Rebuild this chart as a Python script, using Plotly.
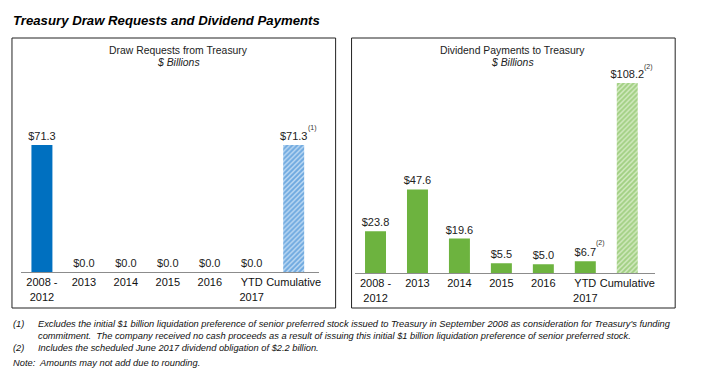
import plotly.graph_objects as go

# The page body has an 8px default margin; the figure is sized to fit inside it.
OFF = 8
W, H = 721 - OFF, 382 - OFF

categories = ["2008 -<br>2012", "2013", "2014", "2015", "2016", "YTD<br>2017", "Cumulative"]
draw_values = [71.3, 0.0, 0.0, 0.0, 0.0, 0.0, 71.3]
dividend_values = [23.8, 47.6, 19.6, 5.5, 5.0, 6.7, 108.2]

title_text = "Treasury Draw Requests and Dividend Payments"
left_title = "Draw Requests from Treasury"
right_title = "Dividend Payments to Treasury"
unit_text = "$ Billions"
footnotes = [
    ("(1)", "Excludes the initial $1 billion liquidation preference of senior preferred stock issued to Treasury in September 2008 as consideration for Treasury's funding"),
    ("", "commitment.  The company received no cash proceeds as a result of issuing this initial $1 billion liquidation preference of senior preferred stock."),
    ("(2)", "Includes the scheduled June 2017 dividend obligation of $2.2 billion."),
]
note_text = "Note:  Amounts may not add due to rounding."

FONT = "Liberation Sans, Arial, sans-serif"
BLUE = "#0070C0"
GREEN = "#6DB33F"


def px(x):
    return (x - OFF) / W


def py(y):
    return 1 - (y - OFF) / H


fig = go.Figure()


def add_panel(values, color, light, stripe, xa, ya):
    periods = categories[:-1]
    fig.add_trace(go.Bar(
        x=periods, y=values[:-1], xaxis=xa, yaxis=ya, width=0.5,
        marker=dict(color=color, line=dict(width=0)),
        texttemplate="$%{y:.1f}", textposition="outside", constraintext="none",
        textfont=dict(family=FONT, size=11, color="#222222"),
        cliponaxis=False, showlegend=False, hoverinfo="skip",
    ))
    fig.add_trace(go.Bar(
        x=categories[-1:], y=values[-1:], xaxis=xa, yaxis=ya, width=0.5,
        marker=dict(
            color=light, line=dict(width=0),
            pattern=dict(shape="/", fgcolor=stripe, size=3.5, solidity=0.55, fillmode="overlay"),
        ),
        texttemplate="$%{y:.1f}", textposition="outside", constraintext="none",
        textfont=dict(family=FONT, size=11, color="#222222"),
        cliponaxis=False, showlegend=False, hoverinfo="skip",
    ))


add_panel(draw_values, BLUE, "#BCD8F2", "#1E78CC", "x", "y")
add_panel(dividend_values, GREEN, "#D3EAC2", "#6DB33F", "x2", "y2")

axis_common = dict(
    type="category", categoryorder="array", categoryarray=categories,
    showgrid=False, zeroline=False, showline=True,
    linecolor="#8C8C8C", linewidth=1, ticks="",
    tickfont=dict(family=FONT, size=11, color="#111111"),
    fixedrange=True,
)

fig.update_layout(
    width=W, height=H,
    margin=dict(l=0, r=0, t=0, b=0),
    paper_bgcolor="white", plot_bgcolor="white",
    font=dict(family=FONT, color="#111111"),
    barmode="overlay",
    xaxis=dict(domain=[px(21), px(320)], anchor="y", **axis_common),
    yaxis=dict(domain=[py(272), py(80)], range=[0, 192 / 1.78], visible=False, fixedrange=True),
    xaxis2=dict(domain=[px(356), px(658)], anchor="y2", **axis_common),
    yaxis2=dict(domain=[py(273), py(80)], range=[0, 193 / 1.755], visible=False, fixedrange=True),
)

# panel frames
for x0, x1 in [(12, 337), (353, 678)]:
    fig.add_shape(type="rect", xref="paper", yref="paper",
                  x0=px(x0), x1=px(x1), y0=py(308), y1=py(38),
                  line=dict(color="#222222", width=1), fillcolor="rgba(0,0,0,0)")

annotations = []
# main title
annotations.append(dict(text="<b><i>" + title_text + "</i></b>", xref="paper", yref="paper",
                        x=px(11), y=py(20), xanchor="left", yanchor="middle", showarrow=False,
                        font=dict(family=FONT, size=13.2, color="#000000")))
# panel titles
for cx, t in [(179, left_title), (515, right_title)]:
    annotations.append(dict(text=t, xref="paper", yref="paper", x=px(cx), y=py(50),
                            xanchor="center", yanchor="middle", showarrow=False,
                            font=dict(family=FONT, size=10.4, color="#222222")))
    annotations.append(dict(text="<i>" + unit_text + "</i>", xref="paper", yref="paper",
                            x=px(cx), y=py(62), xanchor="center", yanchor="middle", showarrow=False,
                            font=dict(family=FONT, size=10.4, color="#222222")))

# superscript footnote markers
sup_font = dict(family=FONT, size=7, color="#333333")
annotations.append(dict(text="(1)", xref="x", yref="y", x=categories[-1], y=draw_values[-1],
                        xanchor="left", yanchor="middle", xshift=12, yshift=17, showarrow=False,
                        font=sup_font))
annotations.append(dict(text="(2)", xref="x2", yref="y2", x=categories[-1], y=dividend_values[-1],
                        xanchor="left", yanchor="middle", xshift=15, yshift=16, showarrow=False,
                        font=sup_font))
annotations.append(dict(text="(2)", xref="x2", yref="y2", x=categories[5], y=dividend_values[5],
                        xanchor="left", yanchor="middle", xshift=9, yshift=18, showarrow=False,
                        font=sup_font))

# footnotes
foot_font = dict(family=FONT, size=9.3, color="#111111")
for (mark, txt), y in zip(footnotes, [324, 336, 348]):
    if mark:
        annotations.append(dict(text="<i>" + mark + "</i>", xref="paper", yref="paper",
                                x=px(11), y=py(y), xanchor="left", yanchor="middle", showarrow=False,
                                font=foot_font))
    annotations.append(dict(text="<i>" + txt + "</i>", xref="paper", yref="paper",
                            x=px(36), y=py(y), xanchor="left", yanchor="middle", showarrow=False,
                            font=foot_font))
annotations.append(dict(text="<i>" + note_text + "</i>", xref="paper", yref="paper",
                        x=px(11), y=py(363), xanchor="left", yanchor="middle", showarrow=False,
                        font=foot_font))

fig.update_layout(annotations=annotations)

fig.write_html("out.html", config={"displayModeBar": False})
